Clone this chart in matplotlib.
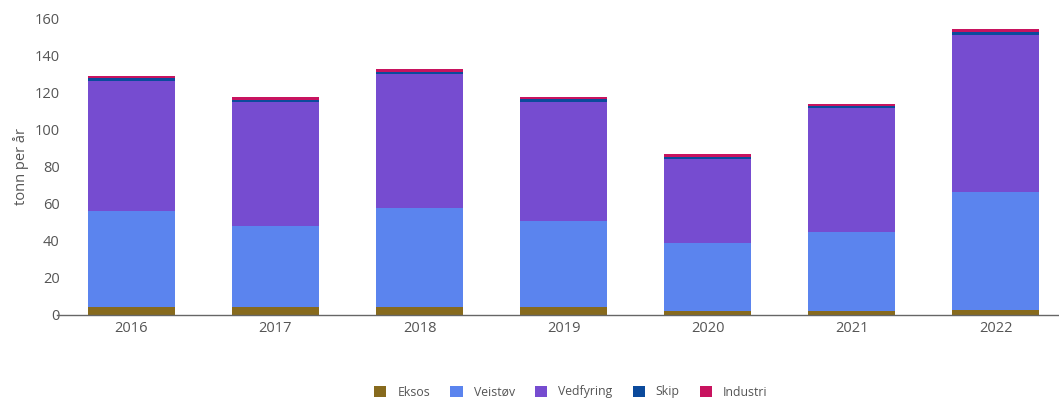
import matplotlib
matplotlib.use("Agg")
import matplotlib.pyplot as plt
import numpy as np

years = ["2016", "2017", "2018", "2019", "2020", "2021", "2022"]
eksos = [4.5, 4.3, 4.3, 4.3, 2.2, 2.0, 2.5]
veistov = [51.5, 43.7, 53.4, 46.3, 36.6, 42.7, 63.8]
vedfyring = [70.0, 66.5, 72.0, 64.2, 45.2, 66.8, 84.6]
skip = [1.5, 1.4, 1.4, 1.3, 1.2, 1.1, 1.6]
industri = [1.5, 1.5, 1.5, 1.4, 1.5, 1.3, 1.6]

series = [("Eksos", eksos, "#876a1d"),
          ("Veistøv", veistov, "#5b84ee"),
          ("Vedfyring", vedfyring, "#764cd0"),
          ("Skip", skip, "#0b4a9c"),
          ("Industri", industri, "#c8135f")]

plt.rcParams['font.family'] = ['Open Sans', 'DejaVu Sans']

fig = plt.figure(figsize=(10.59, 4.01), dpi=100)
ax = fig.add_axes([57/1059, 86/401, 1 - 57/1059, (315-18)/401])

x = np.arange(len(years))
bottom = np.zeros(len(years))
for name, vals, col in series:
    ax.bar(x, vals, width=0.6, bottom=bottom, color=col, label=name, linewidth=0)
    bottom += np.array(vals)

ax.set_xlim(-0.517, 6.44)
ax.set_ylim(0, 160)
ax.set_yticks(range(0, 161, 20))
ax.set_xticks(x)
ax.set_xticklabels(years)
ax.tick_params(axis='y', length=0, pad=-2, labelsize=10.5, labelcolor="#555555")
ax.tick_params(axis='x', length=0, pad=4, labelsize=10.5, labelcolor="#555555")
for s in ["top", "right", "left"]:
    ax.spines[s].set_visible(False)
ax.spines["bottom"].set_color("#666666")
ax.spines["bottom"].set_linewidth(1)
ax.set_ylabel("tonn per år", fontsize=10.5, color="#555555", labelpad=4)

handles, labels = ax.get_legend_handles_labels()
leg = fig.legend(handles, labels, loc="center", bbox_to_anchor=(571/1059, 1 - 392/401),
                 ncol=5, frameon=False, fontsize=8.8, handlelength=1.0, handleheight=1.0,
                 columnspacing=1.65, handletextpad=0.9)
for t in leg.get_texts():
    t.set_color("#555555")
for h in leg.legend_handles:
    h.set_edgecolor("none")

fig.savefig("out.png", dpi=100)
